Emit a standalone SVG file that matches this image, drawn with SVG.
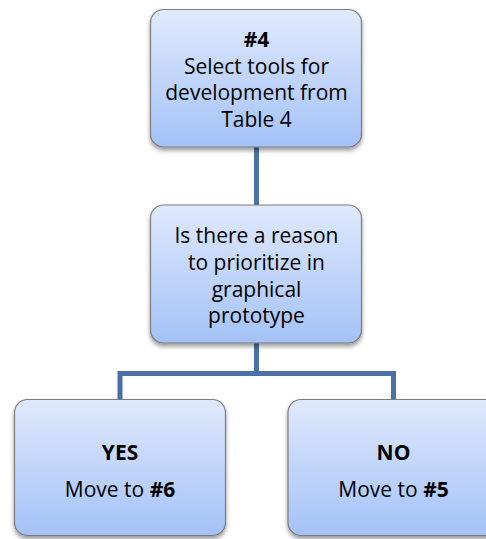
<svg xmlns="http://www.w3.org/2000/svg" width="486" height="539" viewBox="0 0 486 539">
  <defs>
    <linearGradient id="boxFill" x1="0" y1="0" x2="0" y2="1">
      <stop offset="0" stop-color="#dfe9fc"/>
      <stop offset="1" stop-color="#a4c2f7"/>
    </linearGradient>
    <filter id="shadow" x="-10%" y="-10%" width="120%" height="130%">
      <feDropShadow dx="0" dy="3" stdDeviation="2" flood-color="#000" flood-opacity="0.4"/>
    </filter>
  </defs>
  <style>
    .box { fill: url(#boxFill); stroke: #7c7c7c; stroke-width: 1.2; filter: url(#shadow); }
    .link { fill: none; stroke: #4a70a6; stroke-width: 5; stroke-linejoin: miter; }
    text { font-family: "Open Sans", "Liberation Sans", sans-serif; font-size: 21px; fill: #000; text-anchor: middle; }
    .b { font-weight: bold; }
  </style>

  <rect width="486" height="539" fill="#fff"/>

  <!-- connectors -->
  <g id="connectors">
    <line class="link" x1="256.5" y1="147" x2="256.5" y2="205"/>
    <polyline class="link" points="256.5,343 256.5,373.5"/>
    <polyline class="link" points="120,399 120,373.5 393.5,373.5 393.5,399"/>
  </g>

  <!-- step #4 -->
  <g id="step4">
    <rect class="box" x="150.5" y="9.5" width="211" height="137.5" rx="13"/>
    <text class="b" x="256.5" y="47">#4</text>
    <text x="256.5" y="73.5">Select tools for</text>
    <text x="256.5" y="100">development from</text>
    <text x="256.5" y="126.5">Table 4</text>
  </g>

  <!-- decision -->
  <g id="decision">
    <rect class="box" x="150.5" y="205" width="211" height="138" rx="13"/>
    <text x="256.5" y="243">Is there a reason</text>
    <text x="256.5" y="270">to prioritize in</text>
    <text x="256.5" y="296.5">graphical</text>
    <text x="256.5" y="323">prototype</text>
  </g>

  <!-- yes branch -->
  <g id="yes">
    <rect class="box" x="14.5" y="399.5" width="211" height="136" rx="13"/>
    <text class="b" x="120" y="460">YES</text>
    <text x="120" y="496.5">Move to <tspan class="b">#6</tspan></text>
  </g>

  <!-- no branch -->
  <g id="no">
    <rect class="box" x="288" y="399.5" width="211" height="136" rx="13"/>
    <text class="b" x="393.5" y="460">NO</text>
    <text x="393.5" y="496.5">Move to <tspan class="b">#5</tspan></text>
  </g>
</svg>
